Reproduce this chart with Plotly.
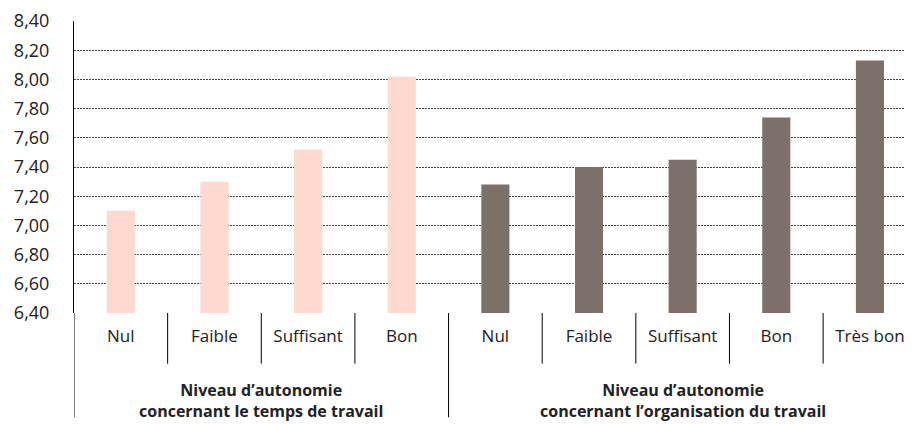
import plotly.graph_objects as go

# données
niveaux_temps = ['Nul', 'Faible', 'Suffisant', 'Bon']
valeurs_temps = [7.10, 7.30, 7.52, 8.02]
niveaux_orga = ['Nul', 'Faible', 'Suffisant', 'Bon', 'Très bon']
valeurs_orga = [7.28, 7.40, 7.45, 7.74, 8.13]
groupes = ['Niveau d’autonomie<br>concernant le temps de travail',
           'Niveau d’autonomie<br>concernant l’organisation du travail']
y_ticks = [6.4, 6.6, 6.8, 7.0, 7.2, 7.4, 7.6, 7.8, 8.0, 8.2, 8.4]

x_temps = list(range(len(niveaux_temps)))
x_orga = [len(niveaux_temps) + i for i in range(len(niveaux_orga))]
n_total = len(x_temps) + len(x_orga)

fig = go.Figure()
fig.add_trace(go.Bar(x=x_temps, y=valeurs_temps, width=0.3,
                     marker=dict(color='#FDD9CE', line=dict(width=0))))
fig.add_trace(go.Bar(x=x_orga, y=valeurs_orga, width=0.3,
                     marker=dict(color='#7B706A', line=dict(width=0))))

# séparateurs de l'axe des catégories
h_short = 51 / 294
h_long = 105 / 294
for i in range(n_total - 1):
    long_line = (i + 1) == len(x_temps)
    fig.add_shape(type='line', xref='x', yref='paper',
                  x0=i + 0.5, x1=i + 0.5, y0=0, y1=-(h_long if long_line else h_short),
                  line=dict(color='#000000', width=1))
fig.add_shape(type='line', xref='x', yref='paper', x0=-0.5, x1=-0.5, y0=0, y1=-h_long,
              line=dict(color='#000000', width=1))

# libellés de groupes
centres = [sum(x_temps) / len(x_temps), sum(x_orga) / len(x_orga)]
for c, g in zip(centres, groupes):
    fig.add_annotation(x=c, xref='x', y=-0.3, yref='paper', text='<b>' + g + '</b>',
                       showarrow=False, yanchor='middle', align='center',
                       font=dict(size=16, color='#222222'))

# la page html ajoute une marge de 8 px autour du graphique
fig.update_layout(
    width=905, height=416,
    margin=dict(l=66, r=0, t=11, b=111),
    paper_bgcolor='white', plot_bgcolor='white',
    barmode='overlay', showlegend=False,
    separators=', ',
    font=dict(family='Open Sans, sans-serif', color='#333333'),
    xaxis=dict(range=[-0.5, 8.46], tickvals=x_temps + x_orga,
               ticktext=niveaux_temps + niveaux_orga,
               showgrid=False, zeroline=False, showline=False,
               ticks='', ticklabelstandoff=11, ticklabeloverflow='allow',
               tickfont=dict(size=17, color='#222222')),
    yaxis=dict(range=[6.4, 8.401], tickvals=y_ticks, tickformat='.2f',
               showgrid=True, gridcolor='#444444', griddash='2px,1px', gridwidth=1,
               zeroline=False, showline=True, linecolor='#000000', linewidth=1,
               ticks='', ticklabelstandoff=20, ticklabeloverflow='allow',
               tickfont=dict(size=18, color='#222222')),
)

fig.write_html('out.html')
